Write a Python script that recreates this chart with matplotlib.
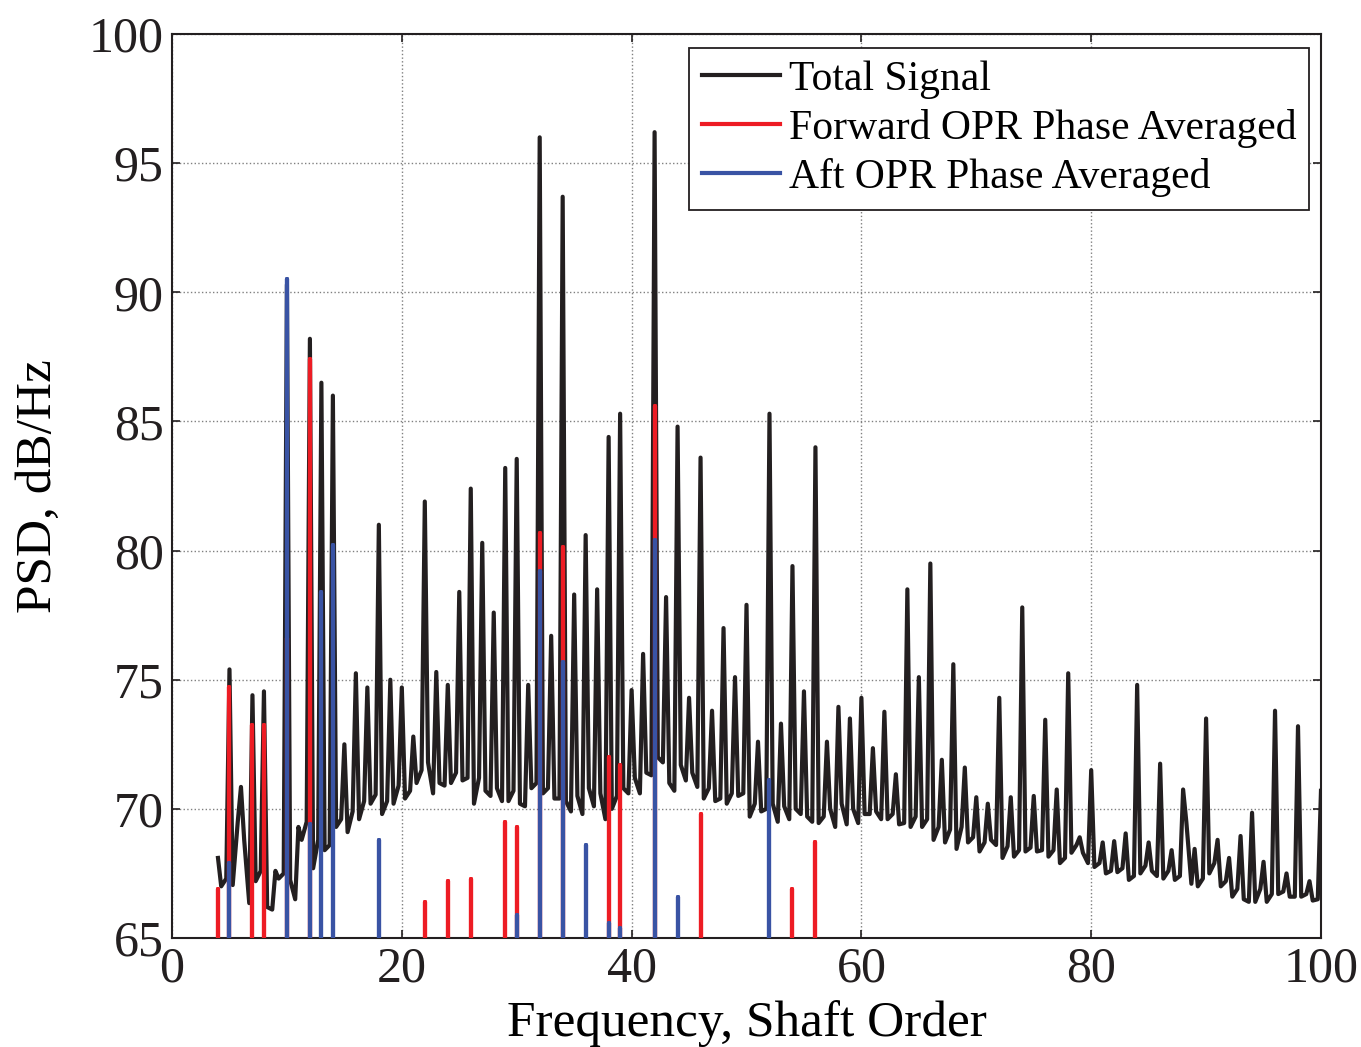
import numpy as np
import matplotlib
matplotlib.use("Agg")
import matplotlib.pyplot as plt

# ==========================
# data
# ==========================

# total signal: peak level at each shaft order 4..100
orders = np.arange(4, 101)
peak_psd = [
    68.1, 75.4, 70.85, 74.4, 74.55, 67.6, 90.3, 69.3, 88.2, 86.5,
    86.0, 72.5, 75.25, 74.7, 81.0, 75.0, 74.7, 72.8, 81.9, 75.3,
    74.8, 78.4, 82.4, 80.3, 77.6, 83.2, 83.55, 74.8, 96.0, 76.7,
    93.7, 78.3, 80.6, 78.5, 84.4, 85.3, 74.6, 76.0, 96.2, 78.2,
    84.8, 74.3, 83.6, 73.8, 77.0, 75.1, 77.9, 72.6, 85.3, 73.3,
    79.4, 74.55, 84.0, 72.6, 73.95, 73.5, 74.3, 72.35, 73.76, 71.34,
    78.5, 75.1, 79.5, 71.9, 75.6, 71.6, 70.45, 70.2, 74.3, 70.45,
    77.8, 70.5, 73.45, 70.75, 75.25, 68.9, 71.5, 68.7, 68.75, 69.05,
    74.8, 68.7, 71.75, 68.4, 70.75, 68.45, 73.5, 68.8, 68.1, 68.95,
    69.85, 67.95, 73.8, 67.5, 73.2, 67.2, 70.7,
]
# trough levels between order n and n+1 (early and late part of the gap)
trough_early = [
    67.0, 67.05, 68.8, 67.2, 66.2, 67.3, 67.25, 68.8, 67.7, 68.4,
    69.3, 69.1, 69.6, 70.2, 69.8, 70.2, 70.4, 71.0, 71.8, 71.0,
    71.0, 71.1, 70.2, 70.7, 70.8, 70.3, 70.2, 70.8, 70.6, 70.4,
    70.3, 70.5, 70.8, 70.6, 70.0, 70.8, 71.2, 71.4, 72.0, 71.0,
    71.7, 71.4, 70.4, 70.3, 70.2, 70.5, 69.7, 69.9, 70.2, 70.1,
    70.0, 69.7, 69.45, 70.0, 70.2, 70.0, 69.8, 69.9, 69.6, 69.4,
    69.3, 69.3, 68.8, 68.7, 68.45, 68.7, 68.35, 68.8, 68.1, 68.15,
    68.35, 68.35, 68.15, 67.9, 68.3, 68.3, 67.75, 67.5, 67.55, 67.25,
    67.5, 67.6, 67.3, 67.25, 69.5, 67.0, 67.5, 67.0, 66.6, 66.5,
    66.4, 66.4, 66.7, 66.6, 66.6, 66.45,
]
trough_late = [
    67.3, 69.5, 66.35, 67.6, 66.1, 67.5, 66.5, 69.5, 68.8, 68.6,
    69.6, 69.9, 70.3, 70.55, 70.3, 70.9, 70.7, 71.5, 70.6, 70.9,
    71.4, 71.2, 71.2, 70.5, 70.3, 70.7, 70.1, 71.0, 70.8, 70.4,
    69.9, 69.8, 70.1, 69.6, 70.5, 70.6, 70.6, 71.3, 71.8, 70.7,
    71.1, 70.85, 70.8, 70.4, 70.6, 70.6, 70.2, 70.0, 69.5, 69.6,
    69.8, 69.5, 69.7, 69.3, 69.4, 69.45, 69.8, 69.6, 69.8, 69.45,
    69.7, 69.6, 69.3, 69.2, 69.3, 68.9, 68.7, 68.6, 68.55, 68.4,
    68.5, 68.4, 68.4, 68.1, 68.6, 67.9, 67.9, 67.6, 67.7, 67.4,
    67.8, 67.4, 67.6, 67.4, 67.1, 67.3, 67.9, 67.2, 66.9, 66.4,
    66.9, 66.7, 66.8, 66.6, 66.7, 66.5,
]

# phase averaged components: orders and levels of the spikes
fwd_orders = [4, 5, 7, 8, 10, 12, 22, 24, 26, 29, 30, 32, 34, 38, 39, 42, 46, 54, 56]
fwd_psd = [66.9, 74.7, 73.25, 73.25, 76.6, 87.4, 66.4, 67.2, 67.3, 69.5,
           69.3, 80.7, 80.15, 72.0, 71.7, 85.6, 69.8, 66.9, 68.7]

aft_orders = [5, 10, 12, 13, 14, 18, 30, 32, 34, 36, 38, 39, 42, 44, 52]
aft_psd = [67.9, 90.5, 69.4, 78.4, 80.2, 68.8, 65.9, 79.2, 75.7, 68.6,
           65.6, 65.4, 80.4, 66.6, 71.1]

# ==========================
# build line paths
# ==========================

gap_o = np.array(orders[:-1], dtype=float)
black_x = np.column_stack([orders[:-1], gap_o + 0.28, gap_o + 0.72]).ravel()
black_x = np.append(black_x, orders[-1])
black_y = np.column_stack([peak_psd[:-1], trough_early, trough_late]).ravel()
black_y = np.append(black_y, peak_psd[-1])


def spikes(o, v, floor=60.0):
    o = np.asarray(o, dtype=float)
    v = np.asarray(v, dtype=float)
    xs = np.repeat(o, 3)
    ys = np.column_stack([np.full_like(v, floor), v, np.full_like(v, floor)]).ravel()
    return xs, ys


fx, fy = spikes(fwd_orders, fwd_psd)
ax_, ay_ = spikes(aft_orders, aft_psd)

# ==========================
# plot
# ==========================

plt.rcParams["font.family"] = ["Liberation Serif", "DejaVu Serif"]

fig = plt.figure(figsize=(13.61, 10.47), dpi=100)
ax = fig.add_axes([0.1264, 0.1041, 0.8442, 0.8634])

ax.plot(black_x, black_y, color="#231F20", linewidth=3.0,
        label="Total Signal", zorder=3)
ax.plot(fx, fy, color="#ED1C24", linewidth=3.0,
        label="Forward OPR Phase Averaged", zorder=4)
ax.plot(ax_, ay_, color="#3953A4", linewidth=3.0,
        label="Aft OPR Phase Averaged", zorder=5)

ax.set_xlim(0, 100)
ax.set_ylim(65, 100)
ax.set_xticks(np.arange(0, 101, 20))
ax.set_yticks(np.arange(65, 101, 5))

ax.grid(True, linestyle=":", color="#808080", linewidth=1.0)
ax.tick_params(direction="in", length=6, width=1.2, top=True, right=True,
               labelsize=36, pad=6, colors="#231F20")
for s in ax.spines.values():
    s.set_linewidth(1.5)
    s.set_color("#231F20")

ax.set_xlabel("Frequency, Shaft Order", fontsize=37, labelpad=5)
ax.set_ylabel("PSD, dB/Hz", fontsize=37, labelpad=19)

leg = ax.legend(loc="upper right", bbox_to_anchor=(0.9896, 0.9845),
                fontsize=30, fancybox=False, framealpha=1,
                edgecolor="#231F20", handlelength=1.87, handletextpad=0.22,
                borderpad=0.3, labelspacing=0.24, borderaxespad=0)
leg.get_frame().set_linewidth(1.3)

plt.savefig("out.png", dpi=100)
